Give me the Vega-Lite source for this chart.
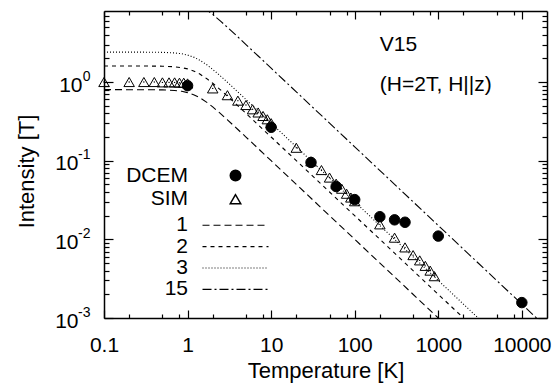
{
  "$schema": "https://vega.github.io/schema/vega-lite/v6.json",
  "width": 443,
  "height": 307,
  "autosize": {"type": "none"},
  "padding": {"left": 104, "top": 11, "right": 13, "bottom": 70},
  "background": "white",
  "config": {
    "font": "Liberation Sans",
    "view": {"stroke": null},
    "axis": {
      "grid": false,
      "domainColor": "black",
      "domainWidth": 1.5,
      "tickColor": "black",
      "tickWidth": 1.2,
      "labelColor": "black",
      "titleColor": "black",
      "labelFontSize": 21,
      "titleFontSize": 22,
      "titleFontWeight": "normal",
      "labelFlush": false,
      "labelOverlap": false,
      "labelBound": false
    },
    "legend": {
      "labelFontSize": 21,
      "labelColor": "black",
      "padding": 0,
      "rowPadding": 1.7
    }
  },
  "datasets": {
    "curves": [
      {"T": 0.1, "I": 0.8, "curve": "1"}, {"T": 0.3, "I": 0.799, "curve": "1"}, {"T": 0.5, "I": 0.795, "curve": "1"}, {"T": 0.7, "I": 0.781, "curve": "1"}, {"T": 0.85, "I": 0.762, "curve": "1"}, {"T": 1, "I": 0.734, "curve": "1"}, {"T": 1.2, "I": 0.686, "curve": "1"}, {"T": 1.4, "I": 0.632, "curve": "1"}, {"T": 1.7, "I": 0.552, "curve": "1"}, {"T": 2, "I": 0.483, "curve": "1"}, {"T": 2.5, "I": 0.394, "curve": "1"}, {"T": 3, "I": 0.331, "curve": "1"}, {"T": 4, "I": 0.249, "curve": "1"}, {"T": 5, "I": 0.1998, "curve": "1"}, {"T": 7, "I": 0.1428, "curve": "1"}, {"T": 10, "I": 0.1, "curve": "1"}, {"T": 20, "I": 0.05, "curve": "1"}, {"T": 50, "I": 0.02, "curve": "1"}, {"T": 100, "I": 0.01, "curve": "1"}, {"T": 300, "I": 0.00333, "curve": "1"}, {"T": 1000, "I": 0.001, "curve": "1"}, {"T": 3000, "I": 0.000333, "curve": "1"},
      {"T": 0.1, "I": 1.6, "curve": "2"}, {"T": 0.3, "I": 1.599, "curve": "2"}, {"T": 0.5, "I": 1.59, "curve": "2"}, {"T": 0.7, "I": 1.563, "curve": "2"}, {"T": 0.85, "I": 1.524, "curve": "2"}, {"T": 1, "I": 1.469, "curve": "2"}, {"T": 1.2, "I": 1.372, "curve": "2"}, {"T": 1.4, "I": 1.263, "curve": "2"}, {"T": 1.7, "I": 1.103, "curve": "2"}, {"T": 2, "I": 0.965, "curve": "2"}, {"T": 2.5, "I": 0.788, "curve": "2"}, {"T": 3, "I": 0.662, "curve": "2"}, {"T": 4, "I": 0.499, "curve": "2"}, {"T": 5, "I": 0.3996, "curve": "2"}, {"T": 7, "I": 0.2856, "curve": "2"}, {"T": 10, "I": 0.2, "curve": "2"}, {"T": 20, "I": 0.1, "curve": "2"}, {"T": 50, "I": 0.04, "curve": "2"}, {"T": 100, "I": 0.02, "curve": "2"}, {"T": 300, "I": 0.00667, "curve": "2"}, {"T": 1000, "I": 0.002, "curve": "2"}, {"T": 3000, "I": 0.000667, "curve": "2"}, {"T": 10000, "I": 0.0002, "curve": "2"},
      {"T": 0.1, "I": 2.4, "curve": "3"}, {"T": 0.3, "I": 2.398, "curve": "3"}, {"T": 0.5, "I": 2.385, "curve": "3"}, {"T": 0.7, "I": 2.344, "curve": "3"}, {"T": 0.85, "I": 2.287, "curve": "3"}, {"T": 1, "I": 2.203, "curve": "3"}, {"T": 1.2, "I": 2.058, "curve": "3"}, {"T": 1.4, "I": 1.895, "curve": "3"}, {"T": 1.7, "I": 1.655, "curve": "3"}, {"T": 2, "I": 1.448, "curve": "3"}, {"T": 2.5, "I": 1.182, "curve": "3"}, {"T": 3, "I": 0.993, "curve": "3"}, {"T": 4, "I": 0.748, "curve": "3"}, {"T": 5, "I": 0.599, "curve": "3"}, {"T": 7, "I": 0.4285, "curve": "3"}, {"T": 10, "I": 0.3, "curve": "3"}, {"T": 20, "I": 0.15, "curve": "3"}, {"T": 50, "I": 0.06, "curve": "3"}, {"T": 100, "I": 0.03, "curve": "3"}, {"T": 300, "I": 0.01, "curve": "3"}, {"T": 1000, "I": 0.003, "curve": "3"}, {"T": 3000, "I": 0.001, "curve": "3"}, {"T": 10000, "I": 0.0003, "curve": "3"},
      {"T": 1, "I": 11.01, "curve": "15"}, {"T": 1.2, "I": 10.29, "curve": "15"}, {"T": 1.4, "I": 9.47, "curve": "15"}, {"T": 1.7, "I": 8.275, "curve": "15"}, {"T": 2, "I": 7.238, "curve": "15"}, {"T": 2.5, "I": 5.91, "curve": "15"}, {"T": 3, "I": 4.963, "curve": "15"}, {"T": 4, "I": 3.742, "curve": "15"}, {"T": 5, "I": 2.997, "curve": "15"}, {"T": 7, "I": 2.142, "curve": "15"}, {"T": 10, "I": 1.5, "curve": "15"}, {"T": 20, "I": 0.75, "curve": "15"}, {"T": 50, "I": 0.3, "curve": "15"}, {"T": 100, "I": 0.15, "curve": "15"}, {"T": 300, "I": 0.05, "curve": "15"}, {"T": 1000, "I": 0.015, "curve": "15"}, {"T": 3000, "I": 0.005, "curve": "15"}, {"T": 10000, "I": 0.0015, "curve": "15"}, {"T": 20000, "I": 0.00075, "curve": "15"}
    ],
    "points": [
      {"T": 0.1, "I": 1.0, "series": "SIM"}, {"T": 0.2, "I": 1.0, "series": "SIM"}, {"T": 0.3, "I": 1.0, "series": "SIM"}, {"T": 0.4, "I": 1.0, "series": "SIM"}, {"T": 0.5, "I": 0.99, "series": "SIM"}, {"T": 0.6, "I": 0.99, "series": "SIM"}, {"T": 0.7, "I": 0.99, "series": "SIM"}, {"T": 0.8, "I": 0.98, "series": "SIM"}, {"T": 0.9, "I": 0.98, "series": "SIM"}, {"T": 1, "I": 0.96, "series": "SIM"},
      {"T": 2, "I": 0.83, "series": "SIM"}, {"T": 3, "I": 0.68, "series": "SIM"}, {"T": 4, "I": 0.58, "series": "SIM"}, {"T": 5, "I": 0.51, "series": "SIM"}, {"T": 6, "I": 0.45, "series": "SIM"}, {"T": 7, "I": 0.41, "series": "SIM"}, {"T": 8, "I": 0.37, "series": "SIM"}, {"T": 9, "I": 0.336, "series": "SIM"}, {"T": 10, "I": 0.3, "series": "SIM"},
      {"T": 20, "I": 0.146, "series": "SIM"}, {"T": 30, "I": 0.098, "series": "SIM"}, {"T": 40, "I": 0.076, "series": "SIM"}, {"T": 50, "I": 0.061, "series": "SIM"}, {"T": 60, "I": 0.051, "series": "SIM"}, {"T": 70, "I": 0.044, "series": "SIM"}, {"T": 80, "I": 0.038, "series": "SIM"}, {"T": 90, "I": 0.034, "series": "SIM"}, {"T": 100, "I": 0.0305, "series": "SIM"},
      {"T": 200, "I": 0.0155, "series": "SIM"}, {"T": 300, "I": 0.0105, "series": "SIM"}, {"T": 400, "I": 0.0079, "series": "SIM"}, {"T": 500, "I": 0.0063, "series": "SIM"}, {"T": 600, "I": 0.0054, "series": "SIM"}, {"T": 700, "I": 0.0046, "series": "SIM"}, {"T": 800, "I": 0.004, "series": "SIM"}, {"T": 900, "I": 0.0034, "series": "SIM"},
      {"T": 1, "I": 0.9, "series": "DCEM"}, {"T": 10, "I": 0.266, "series": "DCEM"}, {"T": 30, "I": 0.095, "series": "DCEM"}, {"T": 60, "I": 0.047, "series": "DCEM"}, {"T": 100, "I": 0.032, "series": "DCEM"}, {"T": 200, "I": 0.0194, "series": "DCEM"}, {"T": 300, "I": 0.0177, "series": "DCEM"}, {"T": 400, "I": 0.0165, "series": "DCEM"}, {"T": 1000, "I": 0.011, "series": "DCEM"}, {"T": 10000, "I": 0.00157, "series": "DCEM"}
    ],
    "notes": [
      {"T": 200, "I": 2.95, "label": "V15"},
      {"T": 200, "I": 0.92, "label": "(H=2T, H||z)"}
    ]
  },
  "layer": [
    {
      "data": {"name": "curves"},
      "mark": {"type": "line", "clip": true, "color": "black", "strokeWidth": 1.1},
      "encoding": {
        "x": {
          "field": "T", "type": "quantitative",
          "scale": {"type": "log", "domain": [0.1, 20000], "nice": false},
          "axis": {
            "orient": "bottom",
            "values": [0.1, 0.2, 0.5, 0.8, 1, 2, 5, 8, 10, 20, 50, 80, 100, 200, 500, 800, 1000, 2000, 5000, 8000, 10000],
            "labelExpr": "datum.value==0.1?'0.1':datum.value==1?'1':datum.value==10?'10':datum.value==100?'100':datum.value==1000?'1000':datum.value==10000?'10000':''",
            "tickSize": {"condition": {"test": "indexof([0.1,1,10,100,1000,10000], datum.value) >= 0", "value": -8}, "value": -4},
            "labelPadding": 24,
            "title": "Temperature [K]",
            "titleY": 59,
            "titleBaseline": "alphabetic"
          }
        },
        "y": {
          "field": "I", "type": "quantitative",
          "scale": {"type": "log", "domain": [0.001, 8], "nice": false},
          "axis": {
            "orient": "left",
            "values": [0.001, 0.002, 0.003, 0.004, 0.005, 0.006, 0.007, 0.008, 0.009, 0.01, 0.02, 0.03, 0.04, 0.05, 0.06, 0.07, 0.08, 0.09, 0.1, 0.2, 0.3, 0.4, 0.5, 0.6, 0.7, 0.8, 0.9, 1, 2, 3, 4, 5, 6, 7],
            "labelExpr": "indexof([0.001,0.01,0.1,1], datum.value) >= 0 ? '10' : ''",
            "tickSize": {"condition": {"test": "indexof([0.001,0.01,0.1,1], datum.value) >= 0", "value": -9}, "value": -5},
            "labelPadding": {"condition": {"test": "datum.value == 1", "value": 31}, "value": 35},
            "labelOffset": 3,
            "title": "Intensity [T]",
            "titleX": -78,
            "titleY": 160,
            "titleBaseline": "middle",
            "titleAlign": "center"
          }
        },
        "strokeDash": {
          "field": "curve", "type": "nominal",
          "scale": {"domain": ["1", "2", "3", "15"], "range": [[7, 4], [4, 4], [1, 2], [9, 3, 2, 3]]},
          "legend": {
            "orient": "none", "legendX": 121, "legendY": 203.7, "title": null,
            "labelAlign": "right", "labelOffset": -58, "rowPadding": -0.6,
            "symbolType": "M-6,0H6", "symbolSize": 121, "symbolStrokeWidth": 1.1, "symbolStrokeColor": "black"
          }
        }
      }
    },
    {
      "data": {"name": "points"},
      "mark": {"type": "point", "filled": true, "stroke": "black", "strokeWidth": 1, "opacity": 1, "size": 110},
      "encoding": {
        "x": {
          "field": "T", "type": "quantitative",
          "axis": {
            "orient": "top",
            "values": [0.1, 0.2, 0.5, 0.8, 1, 2, 5, 8, 10, 20, 50, 80, 100, 200, 500, 800, 1000, 2000, 5000, 8000, 10000],
            "labels": false, "title": null,
            "tickSize": {"condition": {"test": "indexof([0.1,1,10,100,1000,10000], datum.value) >= 0", "value": -8}, "value": -4}
          }
        },
        "y": {
          "field": "I", "type": "quantitative",
          "axis": {
            "orient": "right",
            "values": [0.001, 0.002, 0.003, 0.004, 0.005, 0.006, 0.007, 0.008, 0.009, 0.01, 0.02, 0.03, 0.04, 0.05, 0.06, 0.07, 0.08, 0.09, 0.1, 0.2, 0.3, 0.4, 0.5, 0.6, 0.7, 0.8, 0.9, 1, 2, 3, 4, 5, 6, 7],
            "labels": false, "title": null,
            "tickSize": {"condition": {"test": "indexof([0.001,0.01,0.1,1], datum.value) >= 0", "value": -9}, "value": -5}
          }
        },
        "shape": {
          "field": "series", "type": "nominal",
          "scale": {"domain": ["DCEM", "SIM"], "range": ["circle", "triangle-up"]},
          "legend": {"orient": "none", "legendX": 121, "legendY": 154, "title": null, "labelAlign": "right", "labelOffset": -58, "symbolSize": 110,
            "encode": {"symbols": {"stroke": {"value": "black"}, "strokeWidth": {"value": 1}}}}
        },
        "fill": {
          "field": "series", "type": "nominal",
          "scale": {"domain": ["DCEM", "SIM"], "range": ["black", "transparent"]},
          "legend": {"orient": "none", "legendX": 121, "legendY": 154, "title": null, "labelAlign": "right", "labelOffset": -58, "symbolSize": 110,
            "encode": {"symbols": {"stroke": {"value": "black"}, "strokeWidth": {"value": 1}}}}
        }
      }
    },
    {
      "data": {"name": "points"},
      "transform": [{"filter": "datum.series == 'SIM'"}],
      "mark": {"type": "point", "shape": "circle", "filled": true, "color": "black", "opacity": 1, "size": 2},
      "encoding": {
        "x": {"field": "T", "type": "quantitative", "axis": null},
        "y": {"field": "I", "type": "quantitative", "axis": null}
      }
    },
    {
      "data": {"name": "notes"},
      "mark": {"type": "text", "align": "left", "baseline": "middle", "fontSize": 21, "color": "black"},
      "encoding": {
        "x": {"field": "T", "type": "quantitative", "axis": null},
        "y": {
          "field": "I", "type": "quantitative",
          "axis": {
            "orient": "left",
            "values": [0.001, 0.01, 0.1, 1],
            "labelExpr": "datum.value==1?'0':datum.value==0.1?'-1':datum.value==0.01?'-2':'-3'",
            "labelFontSize": 14,
            "ticks": false,
            "tickSize": 0,
            "domain": false,
            "labelPadding": 14,
            "labelOffset": -6,
            "title": null
          }
        },
        "text": {"field": "label"}
      }
    }
  ],
  "resolve": {"axis": {"x": "independent", "y": "independent"}}
}
